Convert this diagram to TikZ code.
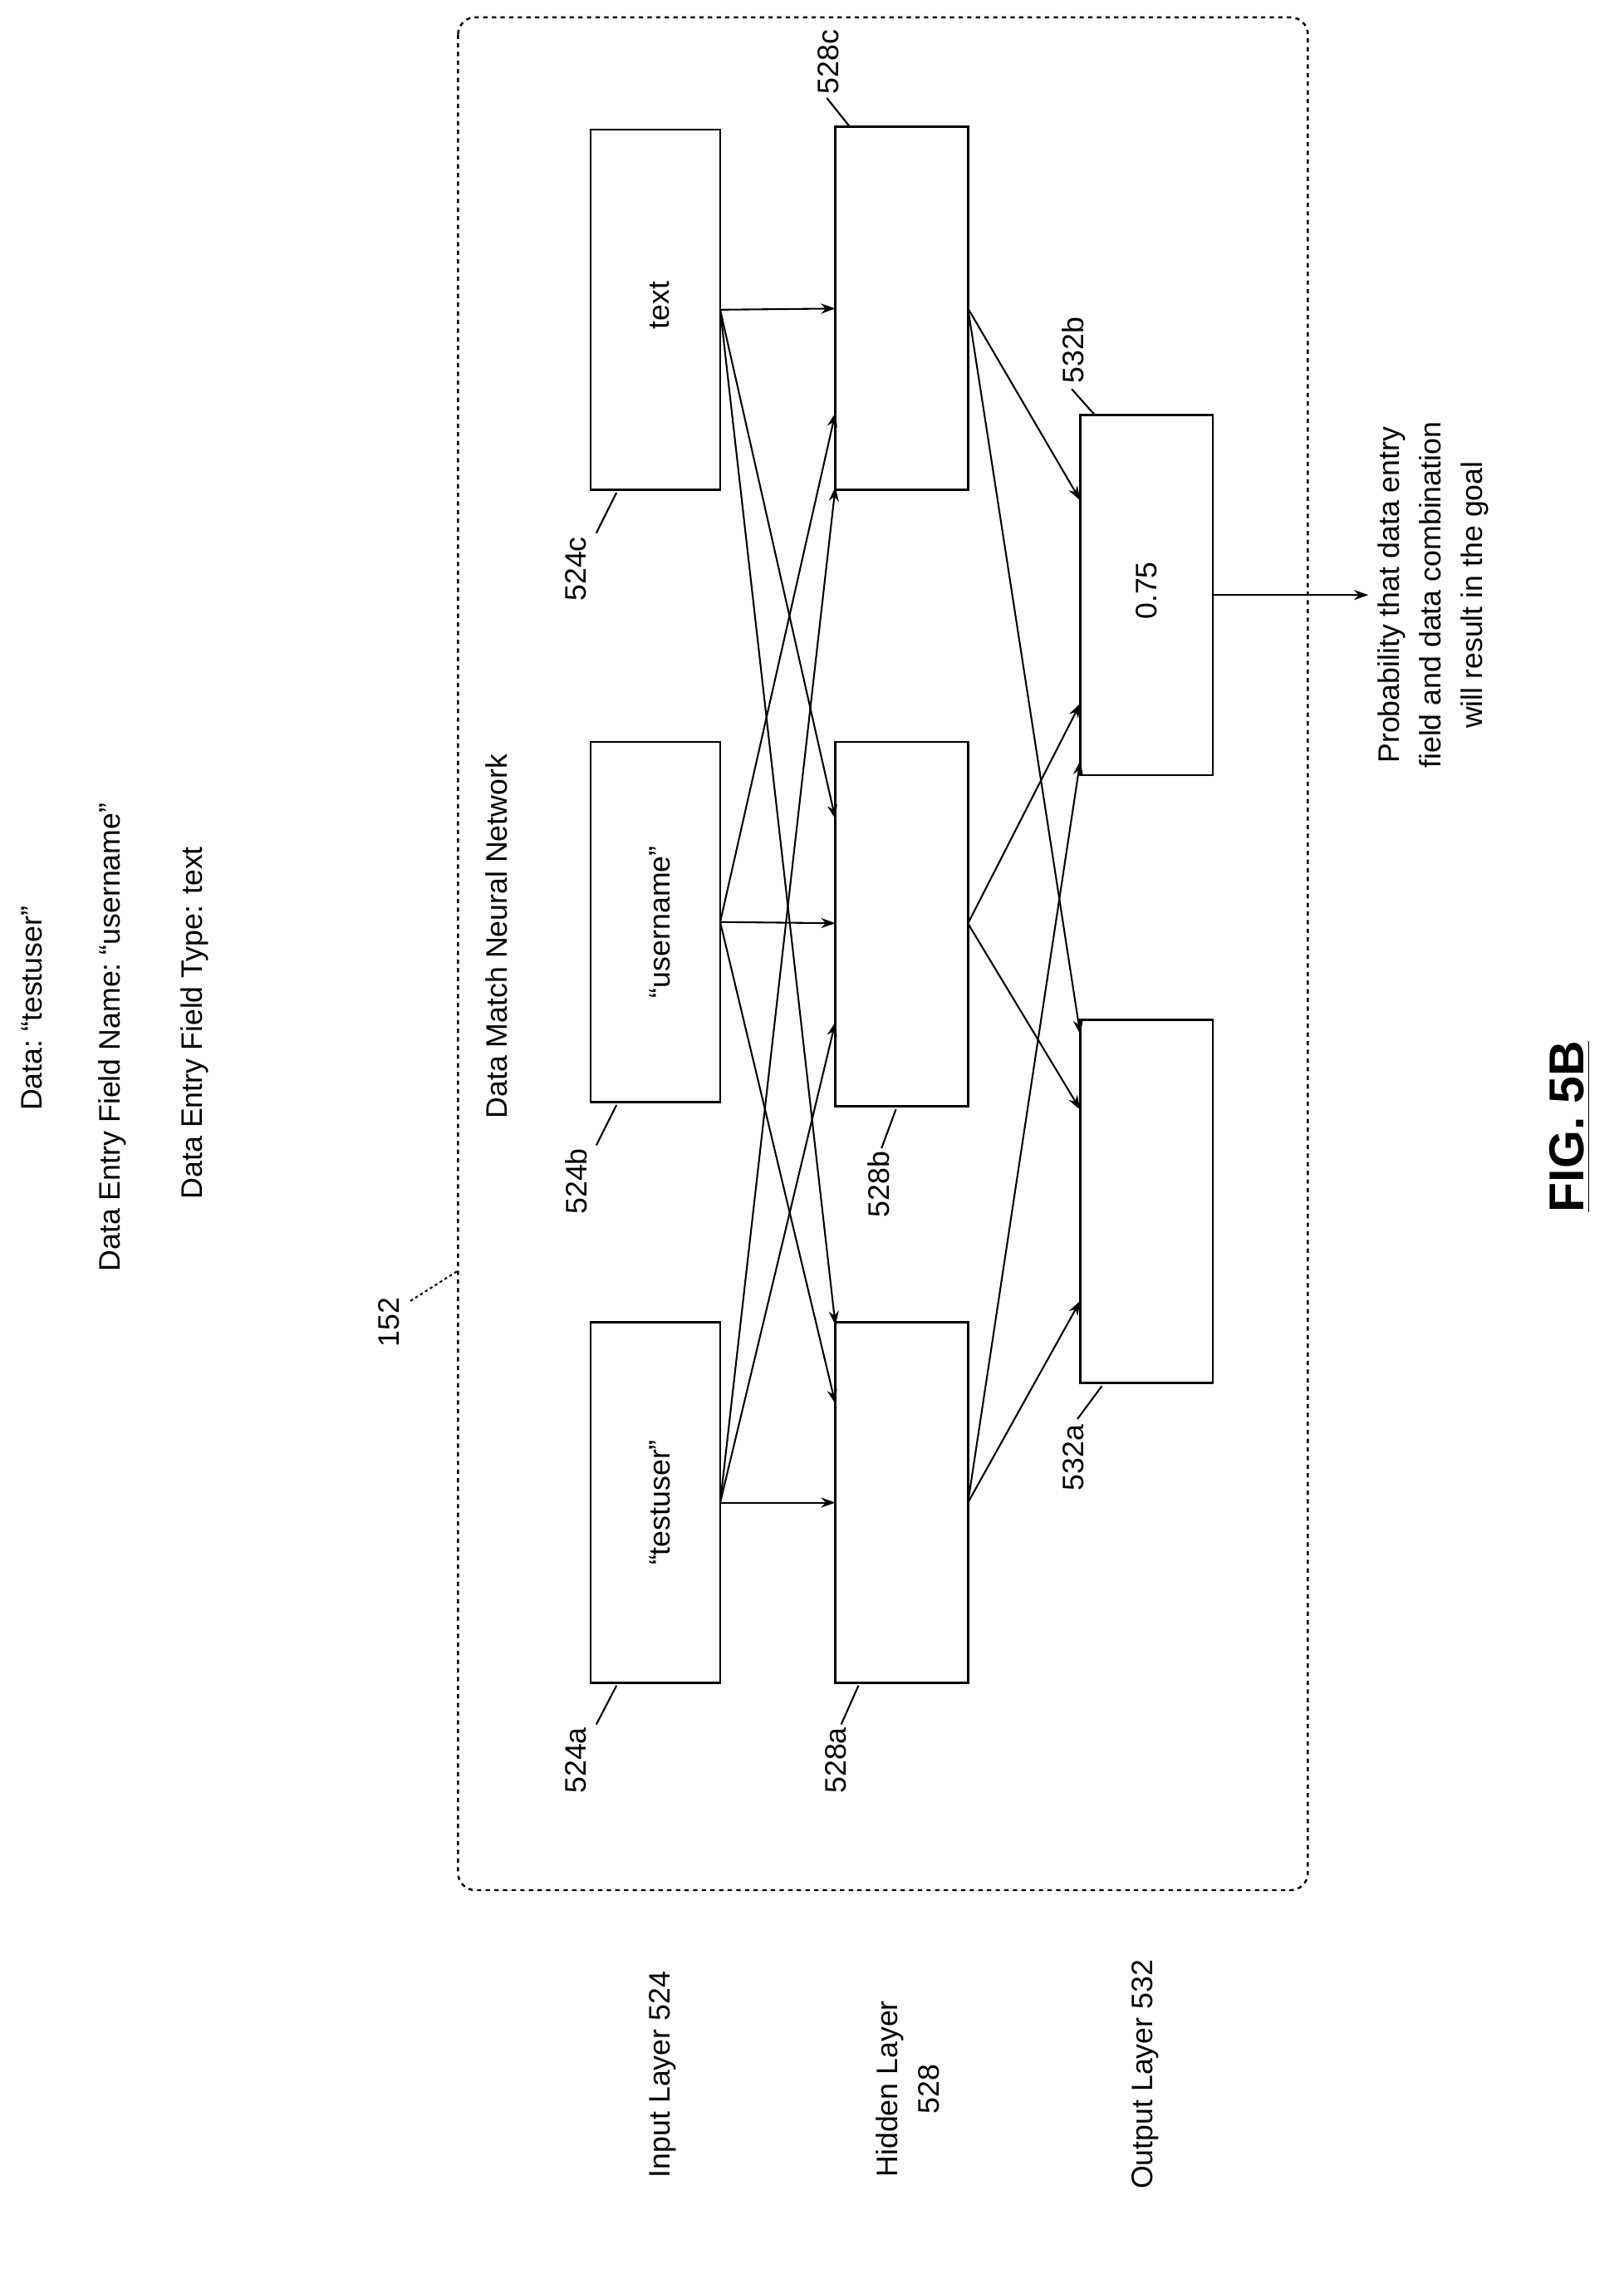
\documentclass[tikz,border=0pt]{standalone}
\usepackage{fontspec}
\setmainfont{Liberation Sans}
\usetikzlibrary{arrows.meta}
\begin{document}
\begin{tikzpicture}[x=0.5pt,y=-0.5pt,
  box/.style={draw,line width=0.8pt},
  txt/.style={rotate=90,font=\fontsize{10.3}{14.5}\selectfont,inner sep=0pt},
  arr/.style={-{Stealth[length=5pt,width=3.5pt]},line width=0.6pt},
  lead/.style={line width=0.6pt}]
\useasboundingbox (0,0) rectangle (1127,1575);
\draw[dash pattern=on 1.5pt off 1.5pt,rounded corners=6pt,line width=0.7pt] (318,12) rectangle (908,1312);
% boxes
\draw[box] (410,90) rectangle (500,340); \coordinate (ic) at (500,215);
\draw[box] (410,515) rectangle (500,765); \coordinate (ib) at (500,640);
\draw[box] (410,918) rectangle (500,1168); \coordinate (ia) at (500,1043);
\draw[box] (580,88) rectangle (672,340);
\draw[box] (580,515) rectangle (672,768);
\draw[box] (580,918) rectangle (672,1168);
\draw[box] (750,288) rectangle (842,538);
\draw[box] (750,708) rectangle (842,960);
\node[txt] at (458,212) {text};
\node[txt] at (458,640) {“username”};
\node[txt] at (458,1043) {“testuser”};
\node[txt] (p) at (796,410) {0.75};
% input -> hidden
\foreach \s/\sy in {c/215,b/640,a/1043}{
  \foreach \hy/\lo/\hi in {214/88/340,641/515/768,1043/918/1168}{
    \pgfmathsetmacro\t{max(\lo+2,min(\hi-2,\hy+(\sy-\hy)*0.17))}
    \draw[arr] (i\s) -- (580,\t);
  }
}
% hidden -> output
\foreach \sy in {214,641,1043}{
  \foreach \oy/\lo/\hi in {413/288/538,834/708/960}{
    \pgfmathsetmacro\t{max(\lo+10,min(\hi-10,\oy+(\sy-\oy)*0.33))}
    \draw[arr] (672,\sy) -- (750,\t);
  }
}
\coordinate (pe) at (950,413);
\draw[arr] (842,413) -- (pe);
\node[txt,align=center,anchor=center] at (995,413) {Probability that data entry\\field and data combination\\will result in the goal};
% top texts
\node[txt] at (22,700) {Data:\ “testuser”};
\node[txt] at (78,720) {Data Entry Field Name:\ “username”};
\node[txt] at (135,710) {Data Entry Field Type: text};
\node[txt] at (270,918) {152};
\draw[dash pattern=on 1pt off 1pt,lead] (285,903) -- (318,882);
\node[txt] at (345,650) {Data Match Neural Network};
% labels
\node[txt] at (400,395) {524c}; \draw[lead] (414,370) -- (428,342);
\node[txt] at (400,820) {524b}; \draw[lead] (414,795) -- (428,767);
\node[txt] at (400,1222) {524a}; \draw[lead] (414,1197) -- (428,1170);
\node[txt] at (575,43) {528c}; \draw[lead] (574,68) -- (590,88);
\node[txt] at (610,822) {528b}; \draw[lead] (612,797) -- (622,770);
\node[txt] at (580,1222) {528a}; \draw[lead] (584,1197) -- (596,1170);
\node[txt] at (745,243) {532b}; \draw[lead] (744,270) -- (760,288);
\node[txt] at (745,1012) {532a}; \draw[lead] (748,985) -- (765,962);
% layer labels
\node[txt] at (460,1440) {Input Layer 524};
\node[txt,align=center] at (630,1450) {Hidden Layer\\528};
\node[txt] at (795,1440) {Output Layer 532};
\node[rotate=90,inner sep=0pt,font=\fontsize{17}{19}\selectfont\bfseries] at (1090,782) {\underline{FIG. 5B}};
\end{tikzpicture}
\end{document}
